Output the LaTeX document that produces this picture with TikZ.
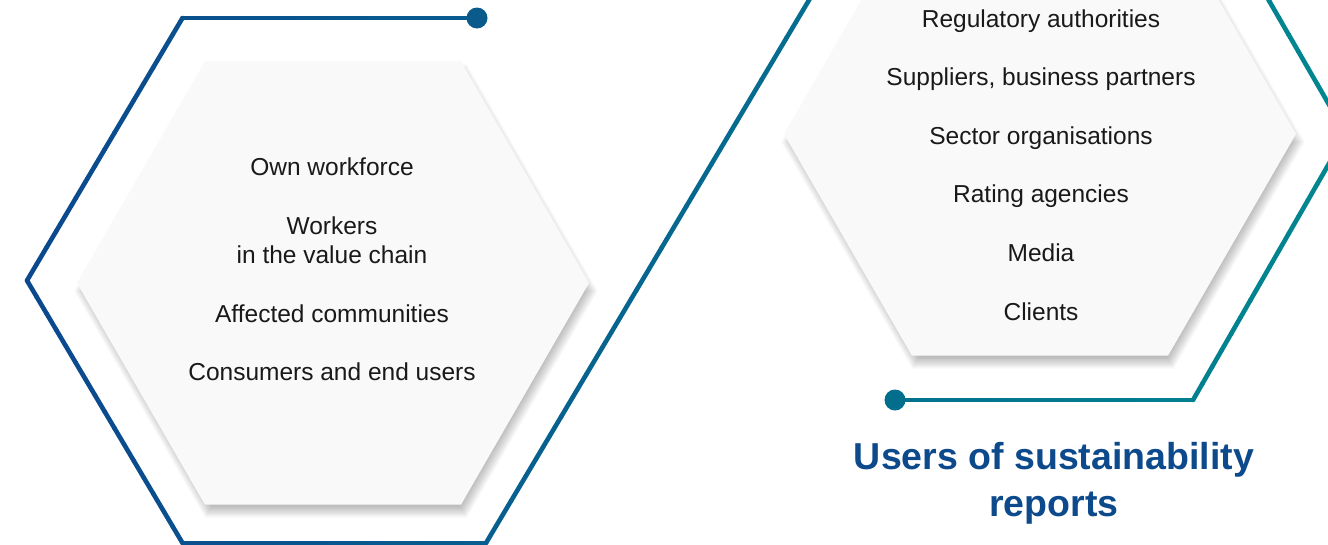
\documentclass[tikz,border=0pt]{standalone}
\usepackage{fontspec}
\setmainfont{Liberation Sans}

\definecolor{hexblue}{RGB}{11,72,142}
\definecolor{hexteal}{RGB}{0,138,144}
\definecolor{dotblue}{RGB}{10,90,140}
\definecolor{dotteal}{RGB}{0,110,140}
\definecolor{hexfill}{RGB}{249,249,249}
\definecolor{titleblue}{RGB}{13,74,140}

\newcommand{\hexagonpath}[1]{(0:#1) -- (60:#1) -- (120:#1) -- (180:#1) -- (240:#1) -- (300:#1) -- cycle}

\tikzset{
	item/.style={anchor=base, font=\fontsize{24.5}{29}\selectfont, text=black!90},
	heading/.style={anchor=base, font=\fontsize{37.5}{47}\bfseries\selectfont, text=titleblue},
	dot/.style={circle, inner sep=0pt, minimum size=21pt},
	outline/.style={line width=4.6pt, line cap=round},
}

\begin{document}
\begin{tikzpicture}[x=1pt, y=-1pt]
\useasboundingbox[fill=white] (0,0) rectangle (1328,544);

%hexagons with a soft shadow
\foreach \cx/\cy in {333/283, 1040/134} {
	\begin{scope}[shift={(\cx,\cy)}]
		\foreach \s in {0,...,9}
			\fill[black, opacity=0.028, shift={(3,8)}] \hexagonpath{249+1.4*\s};
		\fill[hexfill] \hexagonpath{256};
	\end{scope}
}

%outline, blue on the left to teal on the right
\foreach \ax/\ay/\bx/\by in {477/18/182.5/18, 182.5/18/27/280.5, 27/280.5/182.5/543,
	182.5/543/486/543, 486/543/887/-131, 887/-131/1193/-131, 1193/-131/1346/134,
	1346/134/1193/400, 1193/400/895/400}
	\foreach \k in {0,...,15} {
		\pgfmathsetmacro\px{\ax+(\bx-\ax)*\k/16}
		\pgfmathsetmacro\py{\ay+(\by-\ay)*\k/16}
		\pgfmathsetmacro\qx{\ax+(\bx-\ax)*(\k+1)/16}
		\pgfmathsetmacro\qy{\ay+(\by-\ay)*(\k+1)/16}
		\pgfmathsetmacro\mix{100-((\px+\qx)/2-25)/13.75}
		\draw[outline, color=hexblue!\mix!hexteal] (\px,\py) -- (\qx,\qy);
	}
\node[dot, fill=dotblue] (start) at (477,18) {};
\node[dot, fill=dotteal] (end) at (895,400) {};

%left list
\node[item] (own) at (332,175) {Own workforce};
\node[item] (workers) at (332,234) {Workers};
\node[item] (chain) at (332,263) {in the value chain};
\node[item] (communities) at (332,322) {Affected communities};
\node[item] (consumers) at (332,380) {Consumers and end users};

%right list
\foreach \t [count=\i] in {Regulatory authorities, {Suppliers, business partners},
	Sector organisations, Rating agencies, Media, Clients}
	\node[item] (user\i) at (1041, {27+58.6*(\i-1)}) {\t};

%title
\node[heading] (users) at (1054,469) {Users of sustainability};
\node[heading] (reports) at (1054,516) {reports};

\end{tikzpicture}
\end{document}
